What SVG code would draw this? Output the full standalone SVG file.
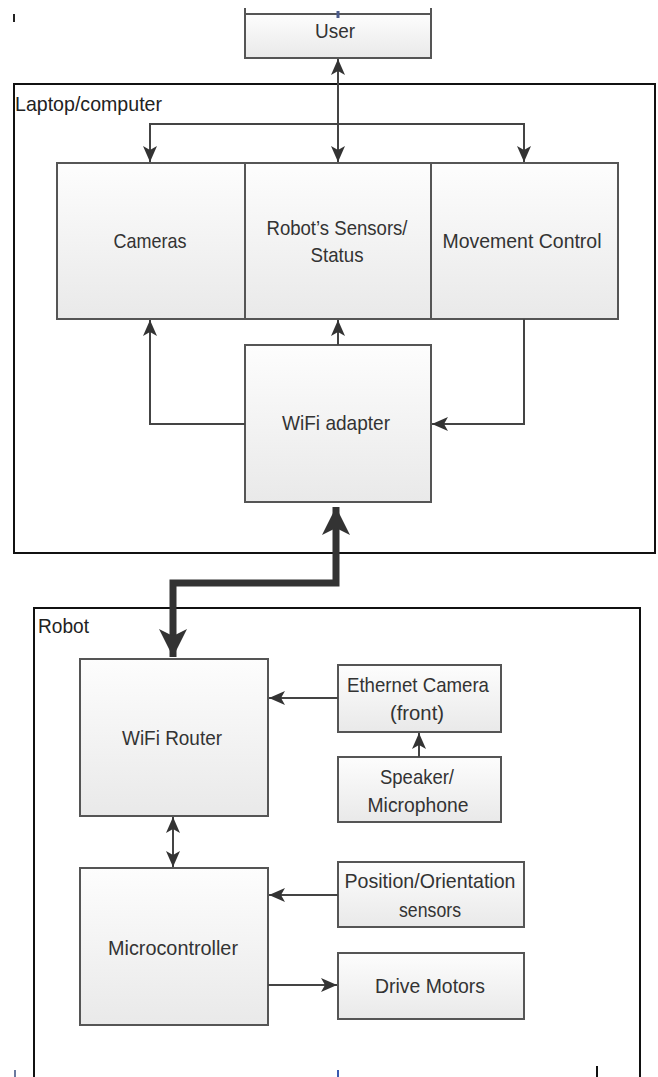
<svg xmlns="http://www.w3.org/2000/svg" width="658" height="1077" viewBox="0 0 658 1077">
<style>
.box{fill:url(#g);stroke:#555;stroke-width:2}
.frame{fill:none;stroke:#111;stroke-width:2}
.t{font-family:"Liberation Sans",Arial,sans-serif;font-size:21px;fill:#333;text-anchor:middle}
.lbl{font-family:"Liberation Sans",Arial,sans-serif;font-size:21px;fill:#222}
.c{fill:none;stroke:#444;stroke-width:2}
.thick{fill:none;stroke:#333;stroke-width:7}
</style>
<defs>
<linearGradient id="g" x1="0" y1="0" x2="0" y2="1">
<stop offset="0" stop-color="#fdfdfd"/>
<stop offset="1" stop-color="#e9e9e9"/>
</linearGradient>
<marker id="a" markerUnits="userSpaceOnUse" markerWidth="18" markerHeight="14" refX="16" refY="7" orient="auto-start-reverse">
<path d="M0,0 L16,7 L0,14 L4,7 Z" fill="#333"/>
</marker>
<marker id="b" markerUnits="userSpaceOnUse" markerWidth="30" markerHeight="28" refX="28" refY="14" orient="auto-start-reverse">
<path d="M0,0 L28,14 L0,28 L7,14 Z" fill="#333"/>
</marker>
</defs>

<g id="laptop">
<rect class="frame" x="14" y="84" width="641" height="469"/>
<text class="lbl" x="15" y="111" textLength="147" lengthAdjust="spacingAndGlyphs">Laptop/computer</text>
</g>
<g id="robot">
<rect class="frame" x="34" y="608" width="606" height="480"/>
<text class="lbl" x="38" y="633" textLength="51" lengthAdjust="spacingAndGlyphs">Robot</text>
</g>

<g id="user">
<line x1="245" y1="8" x2="245" y2="14" stroke="#555" stroke-width="2"/>
<line x1="431" y1="8" x2="431" y2="14" stroke="#555" stroke-width="2"/>
<rect class="box" x="245" y="14" width="186" height="44"/>
<text class="t" x="335" y="38" textLength="40" lengthAdjust="spacingAndGlyphs">User</text>
</g>

<g id="cameras">
<rect class="box" x="57" y="163" width="188" height="156"/>
<text class="t" x="150" y="248" textLength="73" lengthAdjust="spacingAndGlyphs">Cameras</text>
</g>
<g id="sensors">
<rect class="box" x="245" y="163" width="186" height="156"/>
<text class="t" x="337" y="235" textLength="141" lengthAdjust="spacingAndGlyphs">Robot’s Sensors/</text>
<text class="t" x="337" y="262" textLength="53" lengthAdjust="spacingAndGlyphs">Status</text>
</g>
<g id="movement">
<rect class="box" x="431" y="163" width="187" height="156"/>
<text class="t" x="522" y="248" textLength="159" lengthAdjust="spacingAndGlyphs">Movement Control</text>
</g>
<g id="adapter">
<rect class="box" x="245" y="345" width="186" height="157"/>
<text class="t" x="336" y="430" textLength="108" lengthAdjust="spacingAndGlyphs">WiFi adapter</text>
</g>

<g id="router">
<rect class="box" x="80" y="659" width="188" height="157"/>
<text class="t" x="172" y="745" textLength="100" lengthAdjust="spacingAndGlyphs">WiFi Router</text>
</g>
<g id="ethcam">
<rect class="box" x="338" y="665" width="163" height="67"/>
<text class="t" x="418" y="692" textLength="142" lengthAdjust="spacingAndGlyphs">Ethernet Camera</text>
<text class="t" x="417" y="720" textLength="54" lengthAdjust="spacingAndGlyphs">(front)</text>
</g>
<g id="speaker">
<rect class="box" x="338" y="757" width="163" height="65"/>
<text class="t" x="417" y="784" textLength="74" lengthAdjust="spacingAndGlyphs">Speaker/</text>
<text class="t" x="418" y="812" textLength="101" lengthAdjust="spacingAndGlyphs">Microphone</text>
</g>
<g id="micro">
<rect class="box" x="80" y="868" width="188" height="157"/>
<text class="t" x="173" y="955" textLength="130" lengthAdjust="spacingAndGlyphs">Microcontroller</text>
</g>
<g id="position">
<rect class="box" x="338" y="862" width="186" height="65"/>
<text class="t" x="430" y="888" textLength="171" lengthAdjust="spacingAndGlyphs">Position/Orientation</text>
<text class="t" x="430" y="917" textLength="62" lengthAdjust="spacingAndGlyphs">sensors</text>
</g>
<g id="drive">
<rect class="box" x="338" y="953" width="186" height="66"/>
<text class="t" x="430" y="993" textLength="110" lengthAdjust="spacingAndGlyphs">Drive Motors</text>
</g>

<g id="connectors">
<line class="c" x1="338" y1="59" x2="338" y2="162" marker-start="url(#a)" marker-end="url(#a)"/>
<path class="c" d="M150,162 V124 H524 V162" marker-start="url(#a)" marker-end="url(#a)"/>
<path class="c" d="M245,424 H150 V320" marker-end="url(#a)"/>
<line class="c" x1="338" y1="345" x2="338" y2="320" marker-end="url(#a)"/>
<path class="c" d="M524,319 V424 H432" marker-end="url(#a)"/>
<path class="thick" d="M336,507 V583 H173 V657" marker-start="url(#b)" marker-end="url(#b)"/>
<line class="c" x1="338" y1="698" x2="269" y2="698" marker-end="url(#a)"/>
<line class="c" x1="419" y1="757" x2="419" y2="733" marker-end="url(#a)"/>
<line class="c" x1="173" y1="817" x2="173" y2="867" marker-start="url(#a)" marker-end="url(#a)"/>
<line class="c" x1="338" y1="895" x2="269" y2="895" marker-end="url(#a)"/>
<line class="c" x1="268" y1="985" x2="337" y2="985" marker-end="url(#a)"/>
</g>

<g id="marks">
<line x1="14" y1="14" x2="14" y2="22" stroke="#222" stroke-width="2"/>
<line x1="338" y1="11" x2="338" y2="18" stroke="#4a5a8a" stroke-width="3"/>
<line x1="15" y1="1070" x2="15" y2="1077" stroke="#6a7aa0" stroke-width="2"/>
<line x1="338" y1="1070" x2="338" y2="1077" stroke="#3a5ab0" stroke-width="2"/>
<line x1="597" y1="1066" x2="597" y2="1077" stroke="#111" stroke-width="2"/>
</g>
</svg>
